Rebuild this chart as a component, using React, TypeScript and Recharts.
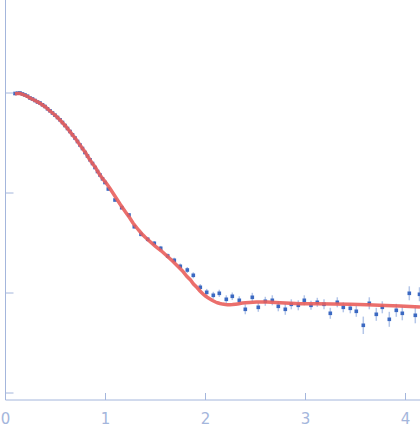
import React from "react";
import { ComposedChart, XAxis, YAxis, Scatter, ErrorBar } from "recharts";

// scattering vector q
const qValues = [
  0.095, 0.12, 0.145, 0.17, 0.195, 0.22, 0.245, 0.27, 0.295, 0.32, 0.345, 0.37,
  0.395, 0.42, 0.445, 0.47, 0.495, 0.52, 0.545, 0.57, 0.595, 0.62, 0.645, 0.67,
  0.695, 0.72, 0.745, 0.77, 0.795, 0.82, 0.845, 0.87, 0.895, 0.92, 0.945, 0.97,
  0.995, 1.028, 1.095, 1.162, 1.235, 1.288, 1.355, 1.422, 1.488, 1.552, 1.622,
  1.688, 1.748, 1.818, 1.878, 1.948, 2.012, 2.078, 2.138, 2.208, 2.268, 2.338,
  2.398, 2.468, 2.528, 2.598, 2.668, 2.728, 2.798, 2.858, 2.928, 2.988, 3.055,
  3.118, 3.185, 3.248, 3.318, 3.378, 3.448, 3.508, 3.578, 3.638, 3.708, 3.768,
  3.838, 3.908, 3.968, 4.038, 4.098, 4.14,
];
// log10 intensity
const logI = [
  -0.005, -0.002, 0.0, -0.01, -0.02, -0.032, -0.05, -0.06, -0.075, -0.09, -0.1,
  -0.118, -0.135, -0.158, -0.178, -0.2, -0.222, -0.245, -0.268, -0.295, -0.325,
  -0.355, -0.385, -0.418, -0.45, -0.485, -0.52, -0.555, -0.595, -0.63, -0.668,
  -0.705, -0.745, -0.785, -0.82, -0.858, -0.895, -0.96, -1.07, -1.147, -1.22,
  -1.337, -1.413, -1.463, -1.503, -1.553, -1.63, -1.673, -1.733, -1.77, -1.823,
  -1.943, -1.993, -2.023, -2.003, -2.063, -2.033, -2.073, -2.163, -2.043, -2.143,
  -2.083, -2.073, -2.133, -2.163, -2.113, -2.123, -2.073, -2.123, -2.093, -2.113,
  -2.203, -2.093, -2.143, -2.153, -2.183, -2.323, -2.103, -2.213, -2.143, -2.263,
  -2.173, -2.203, -2.003, -2.223, -2.013,
];
const logErr = [
  0.004, 0.004, 0.004, 0.004, 0.004, 0.004, 0.004, 0.004, 0.005, 0.005, 0.005,
  0.005, 0.005, 0.006, 0.006, 0.006, 0.006, 0.007, 0.007, 0.007, 0.008, 0.008,
  0.008, 0.009, 0.009, 0.01, 0.01, 0.01, 0.011, 0.011, 0.012, 0.012, 0.013,
  0.013, 0.014, 0.014, 0.015, 0.015, 0.016, 0.017, 0.018, 0.02, 0.02, 0.022,
  0.022, 0.024, 0.025, 0.026, 0.028, 0.03, 0.03, 0.032, 0.034, 0.035, 0.036,
  0.04, 0.038, 0.04, 0.05, 0.045, 0.045, 0.045, 0.05, 0.05, 0.055, 0.05, 0.05,
  0.05, 0.045, 0.045, 0.05, 0.055, 0.05, 0.05, 0.05, 0.055, 0.087, 0.06, 0.065,
  0.06, 0.075, 0.065, 0.07, 0.07, 0.08, 0.07,
];

// fitted curve
const fitQ = [
  0.095, 0.12, 0.145, 0.17, 0.2, 0.225, 0.245, 0.27, 0.3, 0.32, 0.345, 0.37, 0.4,
  0.42, 0.445, 0.47, 0.5, 0.52, 0.545, 0.57, 0.6, 0.62, 0.645, 0.67, 0.7, 0.72,
  0.745, 0.77, 0.8, 0.82, 0.845, 0.87, 0.9, 0.92, 0.945, 0.97, 1.0, 1.045, 1.1,
  1.145, 1.2, 1.24, 1.275, 1.33, 1.36, 1.395, 1.45, 1.5, 1.56, 1.615, 1.67,
  1.715, 1.77, 1.815, 1.85, 1.88, 1.915, 1.945, 1.975, 2.0, 2.025, 2.045, 2.07,
  2.1, 2.12, 2.145, 2.17, 2.2, 2.22, 2.245, 2.27, 2.3, 2.32, 2.345, 2.37, 2.4,
  2.44, 2.475, 2.51, 2.55, 2.615, 2.7, 2.745, 2.85, 2.945, 3.1, 3.275, 3.45,
  3.615, 3.8, 3.945, 4.145,
];
const fitLogI = [
  -0.01, -0.004, -0.005, -0.013, -0.025, -0.037, -0.05, -0.063, -0.078, -0.089,
  -0.103, -0.12, -0.14, -0.157, -0.18, -0.2, -0.225, -0.245, -0.27, -0.297,
  -0.33, -0.355, -0.387, -0.418, -0.455, -0.485, -0.52, -0.555, -0.595, -0.63,
  -0.67, -0.705, -0.745, -0.78, -0.82, -0.855, -0.89, -0.955, -1.04, -1.11,
  -1.19, -1.245, -1.3, -1.37, -1.405, -1.44, -1.49, -1.535, -1.58, -1.63,
  -1.68, -1.725, -1.78, -1.835, -1.87, -1.91, -1.945, -1.98, -2.01, -2.03,
  -2.048, -2.06, -2.075, -2.09, -2.098, -2.105, -2.111, -2.115, -2.117, -2.117,
  -2.116, -2.112, -2.109, -2.105, -2.101, -2.098, -2.095, -2.093, -2.091,
  -2.09, -2.09, -2.094, -2.097, -2.102, -2.107, -2.108, -2.11, -2.113, -2.117,
  -2.124, -2.13, -2.14,
];

const xTicks = [0, 1, 2, 3, 4];
const yTicks = [-3, -2, -1, 0];

const points = qValues.map((q, i) => ({ q, logI: logI[i], err: logErr[i] }));
const fit = fitQ.map((q, i) => ({ q, fit: fitLogI[i] }));

const AXIS = "#a4b6dc";

const XTick = (props: any) => {
  const { x, y, payload } = props;
  return (
    <g>
      <line x1={x} x2={x} y1={y - 4} y2={y - 11} stroke={AXIS} strokeWidth={1} />
      <text x={x} y={y + 20} textAnchor="middle" fill={AXIS} fontSize={15} fontFamily="DejaVu Sans">
        {payload.value}
      </text>
    </g>
  );
};

const YTick = (props: any) => {
  const { x, y } = props;
  return <line x1={x} x2={x + 8} y1={y} y2={y} stroke={AXIS} strokeWidth={1} />;
};

const Dot = (props: any) => {
  const { cx, cy } = props;
  if (cx == null || cy == null) return null;
  return <rect x={cx - 1.8} y={cy - 1.8} width={3.6} height={3.6} fill="#3b69c2" />;
};

const NoDot = () => null;

export default function App() {
  return (
    <div style={{ position: "absolute", left: 0, top: 0, background: "#fff" }}>
      <ComposedChart width={420} height={438} margin={{ top: 0, right: 0, bottom: 0, left: 4.5 }}>
        <XAxis
          type="number"
          dataKey="q"
          domain={[0, 4.145]}
          ticks={xTicks}
          allowDataOverflow
          height={38}
          tickSize={0}
          tickMargin={4}
          tickLine={false}
          axisLine={{ stroke: AXIS }}
          tick={<XTick />}
        />
        <YAxis
          type="number"
          domain={[-3.07, 0.93]}
          ticks={yTicks}
          allowDataOverflow
          width={1}
          tickSize={0}
          tickMargin={0}
          tickLine={false}
          axisLine={{ stroke: AXIS }}
          tick={<YTick />}
        />
        <Scatter data={points} dataKey="logI" shape={<Dot />} isAnimationActive={false}>
          <ErrorBar dataKey="err" direction="y" width={0} stroke="#b4c6e8" strokeWidth={1.5} />
        </Scatter>
        <Scatter
          data={fit}
          dataKey="fit"
          shape={<NoDot />}
          line={{ stroke: "#e95f5c", strokeWidth: 3.5, strokeOpacity: 0.9 }}
          lineType="joint"
          isAnimationActive={false}
        />
      </ComposedChart>
    </div>
  );
}
